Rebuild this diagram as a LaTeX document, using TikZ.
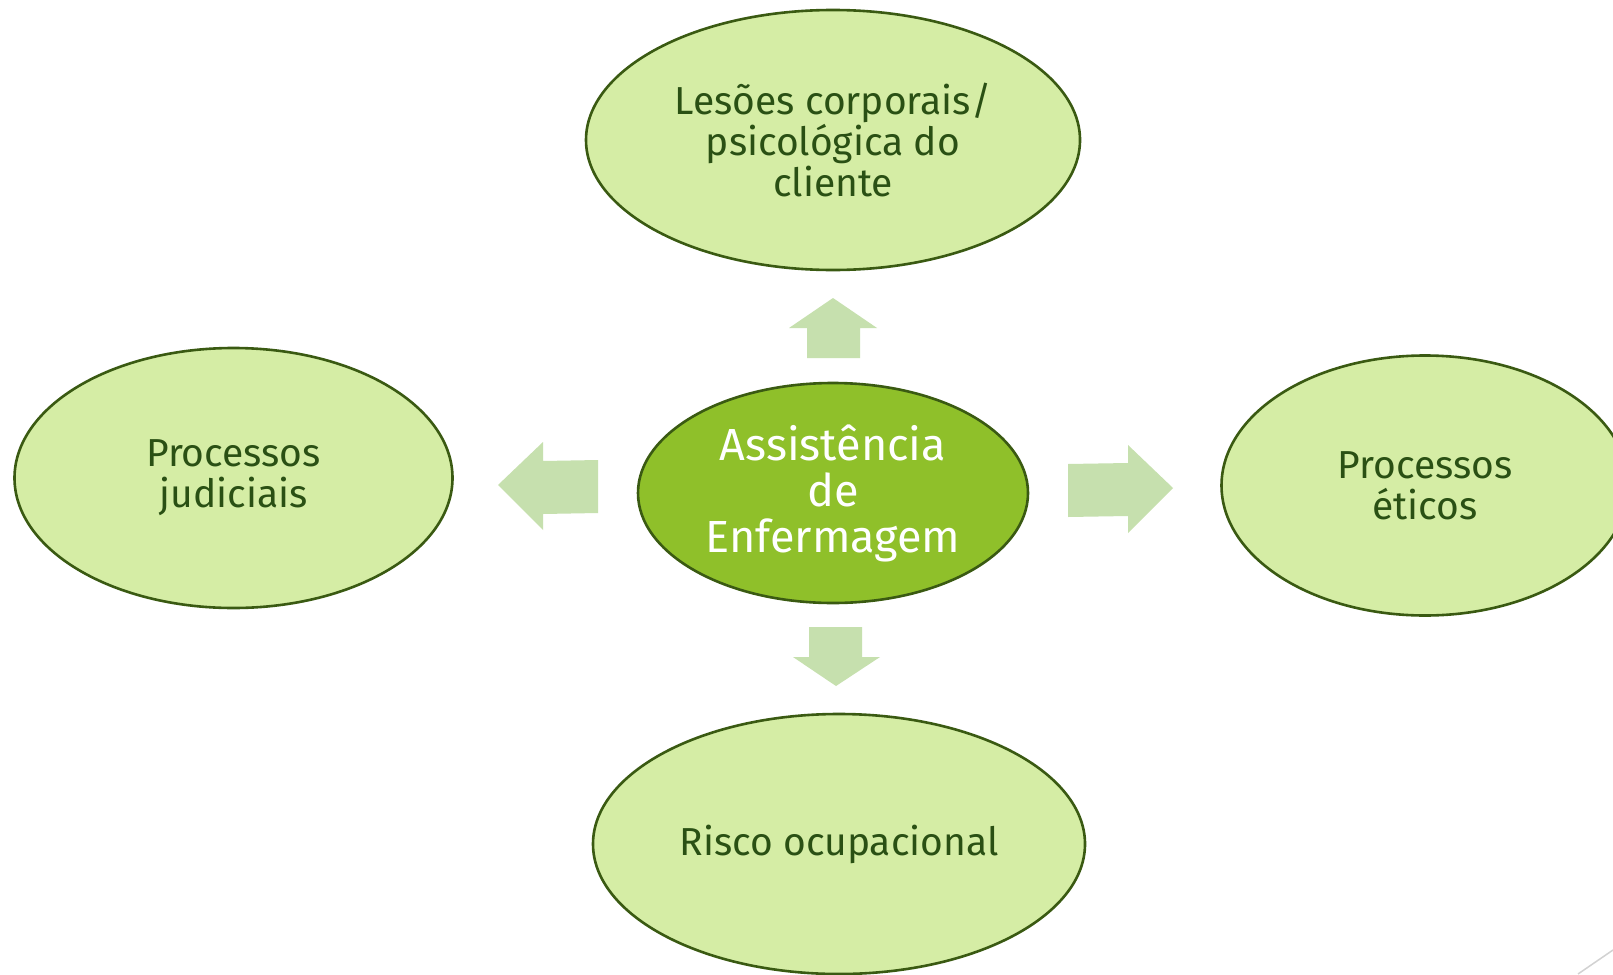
\documentclass[tikz,border=0pt]{standalone}
\usepackage{fontspec}
\setmainfont{Fira Sans}
\usetikzlibrary{shapes.geometric}
\definecolor{lightfill}{HTML}{D5EDA5}
\definecolor{edgegreen}{HTML}{3A5A12}
\definecolor{centerfill}{HTML}{8FC02A}
\definecolor{txtgreen}{HTML}{2A5014}
\definecolor{arrowfill}{HTML}{C6E0AE}
\tikzset{
  outer/.style={ellipse, draw=edgegreen, line width=2.6pt, fill=lightfill, inner sep=0pt,
    text=txtgreen, font=\fontsize{39}{41}\selectfont, align=center},
  inner/.style={ellipse, draw=edgegreen, line width=2.6pt, fill=centerfill, inner sep=0pt,
    text=white, font=\fontsize{45}{46}\selectfont, align=center},
  bigarrow/.style={fill=arrowfill, draw=none}
}
\begin{document}
\begin{tikzpicture}[x=1pt,y=-1pt]
\useasboundingbox (0,0) rectangle (1613,974);
\clip (0,0) rectangle (1613,974);
\fill[white] (0,0) rectangle (1613,974);
% ellipses
\node[outer, minimum width=494pt, minimum height=260pt] (top) at (833,140) {Lesões corporais/\\psicológica do\\cliente};
\node[outer, minimum width=438pt, minimum height=260pt] (left) at (233.5,478) {Processos\\judiciais};
\node[outer, minimum width=407pt, minimum height=260pt] (right) at (1425,485.5) {Processos\\éticos};
\node[outer, minimum width=492pt, minimum height=260pt] (bottom) at (839,844) {Risco ocupacional};
\node[inner, minimum width=390pt, minimum height=220pt] (center) at (833,493) {Assistência\\de\\Enfermagem};
% arrows
\fill[bigarrow] (833,298) -- (877,328) -- (860,328) -- (860,358) -- (807,358) -- (807,328) -- (789,328) -- cycle;
\fill[bigarrow] (836,686) -- (880,657) -- (862,657) -- (862,627) -- (809,627) -- (809,657) -- (793,657) -- cycle;
\fill[bigarrow] (498,485) -- (543,442) -- (543,461) -- (598,460) -- (598,513) -- (543,514) -- (543,530) -- cycle;
\fill[bigarrow] (1173,488) -- (1128,445) -- (1128,463) -- (1068,464) -- (1068,517) -- (1128,516) -- (1128,533) -- cycle;
% slide corner line
\coordinate (c1) at (1578,974);
\coordinate (c2) at (1613,950);
\draw[gray!35, line width=1.5pt] (c1) -- (c2);
\end{tikzpicture}
\end{document}
